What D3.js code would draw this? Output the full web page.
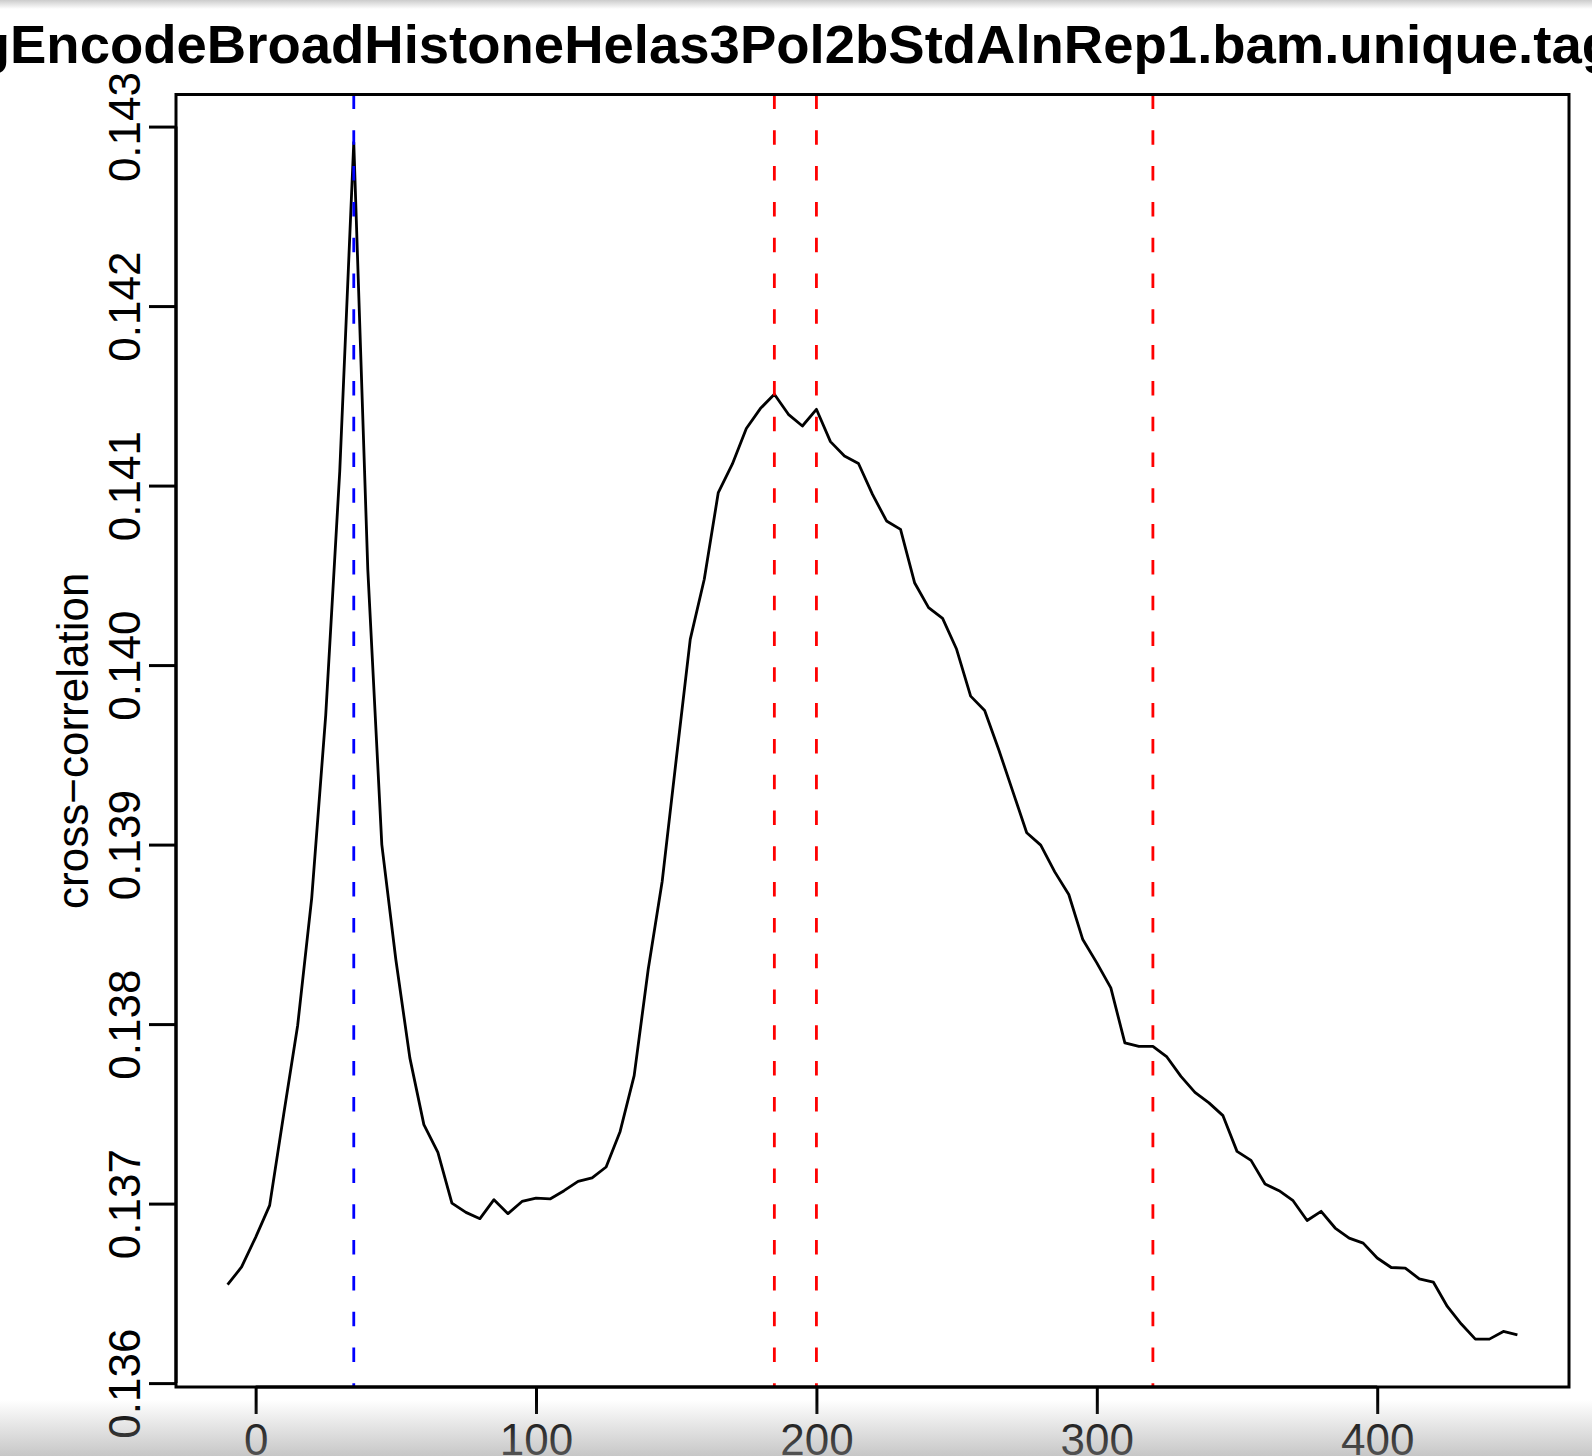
<!DOCTYPE html>
<html>
<head>
<meta charset="utf-8">
<script src="https://cdn.jsdelivr.net/npm/d3@7"></script>
<style>
  html, body { margin: 0; padding: 0; background: #fff; }
  svg { display: block; }
  text { font-family: "Liberation Sans", Arial, Helvetica, sans-serif; fill: #000; }
</style>
</head>
<body>
<div id="chart"></div>
<script>
// strand shift (bp)
var shifts = [-10, -5, 0, 5, 10, 15, 20, 25, 30, 35, 40, 45, 50, 55, 60, 65, 70, 75, 80, 85,
  90, 95, 100, 105, 110, 115, 120, 125, 130, 135, 140, 145, 150, 155, 160, 165, 170, 175, 180, 185,
  190, 195, 200, 205, 210, 215, 220, 225, 230, 235, 240, 245, 250, 255, 260, 265, 270, 275, 280, 285,
  290, 295, 300, 305, 310, 315, 320, 325, 330, 335, 340, 345, 350, 355, 360, 365, 370, 375, 380, 385,
  390, 395, 400, 405, 410, 415, 420, 425, 430, 435, 440, 445, 450];

// cross-correlation at each shift
var crossCorr = [0.136548, 0.136647, 0.136812, 0.136990, 0.137496, 0.137994, 0.138702, 0.139721, 0.141080, 0.142912,
  0.140533, 0.139000, 0.138360, 0.137812, 0.137440, 0.137285, 0.137003, 0.136951, 0.136916, 0.137022,
  0.136944, 0.137012, 0.137031, 0.137026, 0.137072, 0.137124, 0.137143, 0.137204, 0.137402, 0.137713,
  0.138304, 0.138796, 0.139474, 0.140143, 0.140478, 0.140961, 0.141119, 0.141318, 0.141429, 0.141509,
  0.141397, 0.141332, 0.141425, 0.141245, 0.141165, 0.141123, 0.140951, 0.140803, 0.140756, 0.140459,
  0.140320, 0.140260, 0.140088, 0.139827, 0.139747, 0.139530, 0.139298, 0.139066, 0.138997, 0.138848,
  0.138722, 0.138471, 0.138341, 0.138202, 0.137895, 0.137876, 0.137876, 0.137817, 0.137709, 0.137620,
  0.137561, 0.137490, 0.137291, 0.137241, 0.137109, 0.137072, 0.137016, 0.136906, 0.136957, 0.136864,
  0.136808, 0.136780, 0.136697, 0.136644, 0.136641, 0.136581, 0.136563, 0.136427, 0.136329, 0.136245,
  0.136245, 0.136288, 0.136269];

var phantomShift = [35];          // blue line
var fragmentShifts = [185, 200, 320]; // red lines

var xTicks = [0, 100, 200, 300, 400];
var yTicks = [0.136, 0.137, 0.138, 0.139, 0.140, 0.141, 0.142, 0.143];

var title = "wgEncodeBroadHistoneHelas3Pol2bStdAlnRep1.bam.unique.tagAlign.gz";
var yLabel = "cross\u2212correlation";

var W = 1592, H = 1456;
var box = {left: 176, right: 1569, top: 94.5, bottom: 1387};

var svg = d3.select("#chart").append("svg").attr("width", W).attr("height", H);
svg.append("rect").attr("width", W).attr("height", H).attr("fill", "#fff");

// R style 4% padding
function pad(ext) {
  var d = (ext[1] - ext[0]) * 0.04;
  return [ext[0] - d, ext[1] + d];
}
var x = d3.scaleLinear().domain(pad(d3.extent(shifts))).range([box.left, box.right]);
var y = d3.scaleLinear().domain(pad(d3.extent(crossCorr))).range([box.bottom, box.top]);

var data = shifts.map(function (s, i) { return [s, crossCorr[i]]; });

var line = d3.line().x(function (d) { return x(d[0]); }).y(function (d) { return y(d[1]); });

svg.append("path").datum(data)
  .attr("d", line)
  .attr("fill", "none")
  .attr("stroke", "#000")
  .attr("stroke-width", 2.8)
  .attr("stroke-linejoin", "round");

// vertical markers
function vlines(vals, col) {
  svg.selectAll(null).data(vals).enter().append("line")
    .attr("x1", function (d) { return x(d); })
    .attr("x2", function (d) { return x(d); })
    .attr("y1", box.top).attr("y2", box.bottom)
    .attr("stroke", col)
    .attr("stroke-width", 2.8)
    .attr("stroke-dasharray", "14.5,21.3");
}
vlines(fragmentShifts, "#ff0000");
vlines(phantomShift, "#0000ff");

// box
svg.append("rect")
  .attr("x", box.left).attr("y", box.top)
  .attr("width", box.right - box.left).attr("height", box.bottom - box.top)
  .attr("fill", "none").attr("stroke", "#000").attr("stroke-width", 3);

// x axis
var xAxis = svg.append("g").attr("transform", "translate(0," + box.bottom + ")")
  .call(d3.axisBottom(x).tickValues(xTicks).tickSize(27).tickPadding(10).tickFormat(d3.format("d")));
xAxis.select(".domain").attr("d", "M" + x(xTicks[0]) + ",0H" + x(xTicks[xTicks.length - 1]))
  .attr("stroke-width", 3);
xAxis.selectAll(".tick line").attr("stroke-width", 3);
xAxis.selectAll(".tick text").attr("font-size", 44).attr("font-family", null)
  .attr("dy", null).attr("y", 68);

// y axis
var yAxis = svg.append("g").attr("transform", "translate(" + box.left + ",0)")
  .call(d3.axisLeft(y).tickValues(yTicks).tickSize(27).tickFormat(d3.format(".3f")));
yAxis.select(".domain").attr("d", "M0," + y(yTicks[0]) + "V" + y(yTicks[yTicks.length - 1]))
  .attr("stroke-width", 3);
yAxis.selectAll(".tick line").attr("stroke-width", 3);
yAxis.selectAll(".tick text")
  .attr("font-size", 44).attr("font-family", null)
  .attr("x", null).attr("dy", null)
  .attr("text-anchor", "middle")
  .attr("transform", "translate(-36,0) rotate(-90)");

svg.append("text")
  .attr("transform", "translate(88," + ((box.top + box.bottom) / 2) + ") rotate(-90)")
  .attr("text-anchor", "middle")
  .attr("font-size", 44)
  .text(yLabel);

// title, wider than the page; pinned so "E" of Encode sits at x=10
var titleSize = 54.5;
var t = svg.append("text")
  .attr("y", 63)
  .attr("font-size", titleSize)
  .attr("font-weight", "bold")
  .text(title);
var probe = svg.append("text").attr("font-size", titleSize).attr("font-weight", "bold").text("wg");
var wg = probe.node().getComputedTextLength();
probe.remove();
t.attr("x", 10 - wg);

// screenshot edge shading
var defs = svg.append("defs");
var gb = defs.append("linearGradient").attr("id", "gb").attr("x1", 0).attr("x2", 0).attr("y1", 0).attr("y2", 1);
gb.append("stop").attr("offset", "0%").attr("stop-color", "#999").attr("stop-opacity", 0);
gb.append("stop").attr("offset", "100%").attr("stop-color", "#999").attr("stop-opacity", 0.55);
svg.append("rect").attr("x", 0).attr("y", 1400).attr("width", W).attr("height", H - 1400).attr("fill", "url(#gb)");
var gt = defs.append("linearGradient").attr("id", "gt").attr("x1", 0).attr("x2", 0).attr("y1", 0).attr("y2", 1);
gt.append("stop").attr("offset", "0%").attr("stop-color", "#999").attr("stop-opacity", 0.5);
gt.append("stop").attr("offset", "100%").attr("stop-color", "#999").attr("stop-opacity", 0);
svg.append("rect").attr("x", 0).attr("y", 0).attr("width", W).attr("height", 9).attr("fill", "url(#gt)");
</script>
</body>
</html>
